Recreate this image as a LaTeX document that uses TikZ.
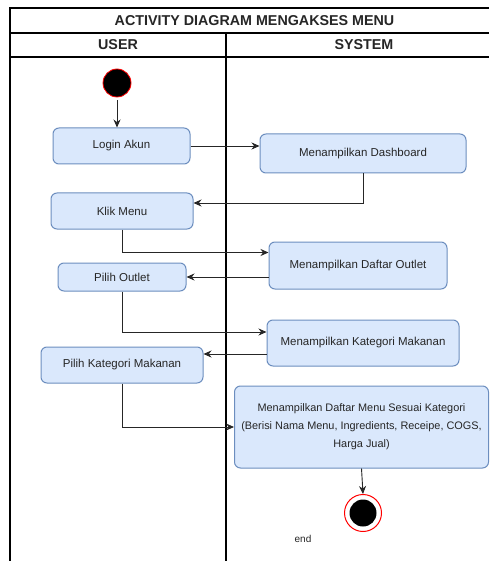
\documentclass[tikz,border=0pt]{standalone}
\usepackage{fontspec}
\setmainfont{Liberation Sans}
\usepackage{tikz}
\usetikzlibrary{arrows.meta,calc}

\definecolor{boxfill}{HTML}{DAE8FC}
\definecolor{boxline}{HTML}{6C8EBF}
\definecolor{dotred}{HTML}{FF0000}

\begin{document}
\begin{tikzpicture}[x=1pt,y=-1pt,
    activity/.style={draw=boxline, fill=boxfill, line width=1pt, rounded corners=6pt,
      font=\fontsize{11.5}{18}\selectfont, text=black!85, align=center, inner sep=0pt},
    flow/.style={draw=black!85, line width=0.9pt, -{Stealth[length=8pt,width=7pt]}},
    lane/.style={line width=1.1pt},
    heading/.style={font=\fontsize{14.3}{16}\selectfont\bfseries, text=black!85}]
    \useasboundingbox (0,0) rectangle (489,561);
    \fill[white] (0,0) rectangle (489,561);

    \draw[lane] (10,561) -- (10,8) -- (489,8);
    \draw[lane] (10,33) -- (489,33);
    \draw[lane] (10,57) -- (489,57);
    \draw[lane] (226,33) -- (226,561);

    \node[heading] (title) at (254.5,20.5) {ACTIVITY DIAGRAM MENGAKSES MENU};
    \node[heading] (user) at (118,45) {USER};
    \node[heading] (system) at (364,45) {SYSTEM};

    \node[circle, fill=black, draw=dotred, line width=0.8pt, minimum size=28pt, inner sep=0pt] (start) at (117,83) {};

    \node[activity, minimum width=137pt, minimum height=36pt] (login) at (121.5,146) {Login Akun};
    \node[activity, minimum width=206pt, minimum height=39pt] (dash) at (363,153.5) {Menampilkan Dashboard};
    \node[activity, minimum width=142pt, minimum height=36pt] (klik) at (122,211) {Klik Menu};
    \node[activity, minimum width=178pt, minimum height=47pt] (outlet) at (358,265.5) {Menampilkan Daftar Outlet};
    \node[activity, minimum width=128pt, minimum height=28pt] (pilihoutlet) at (122,277) {Pilih Outlet};
    \node[activity, minimum width=192pt, minimum height=46pt] (kategori) at (363,343) {Menampilkan Kategori Makanan};
    \node[activity, minimum width=162pt, minimum height=36pt] (pilihkat) at (122,365) {Pilih Kategori Makanan};
    \node[activity, minimum width=254pt, minimum height=82pt, font=\fontsize{10.9}{18}\selectfont] (menu) at (361.5,427)
      {Menampilkan Daftar Menu Sesuai Kategori\\(Berisi Nama Menu, Ingredients, Receipe, COGS,\\Harga Jual)};

    \node[circle, draw=dotred, fill=white, line width=1pt, minimum size=37pt, inner sep=0pt] (stop) at (363,513) {};
    \node[circle, fill=black, minimum size=27pt, inner sep=0pt] (stopdot) at (stop) {};
    \node[font=\fontsize{10}{12}\selectfont, text=black!85] (endlabel) at (303,539) {end};

    \draw[flow] ([yshift=-3pt]start.south) -- (start |- login.north);
    \draw[flow] (login.east) -- (login.east -| dash.west);
    \draw[flow] (dash.south) |- ([yshift=8pt]klik.east);
    \draw[flow] (klik.south) |- ([yshift=13pt]outlet.west);
    \draw[flow] (pilihoutlet.east -| outlet.west) -- (pilihoutlet.east);
    \draw[flow] (pilihoutlet.south) |- ([yshift=11pt]kategori.west);
    \draw[flow] ([yshift=-11pt]kategori.west) -- ([yshift=-11pt]kategori.west -| pilihkat.east);
    \draw[flow] (pilihkat.south) |- (menu.west);
    \draw[flow] (menu.south) -- (stop.north);
  \end{tikzpicture}
\end{document}
